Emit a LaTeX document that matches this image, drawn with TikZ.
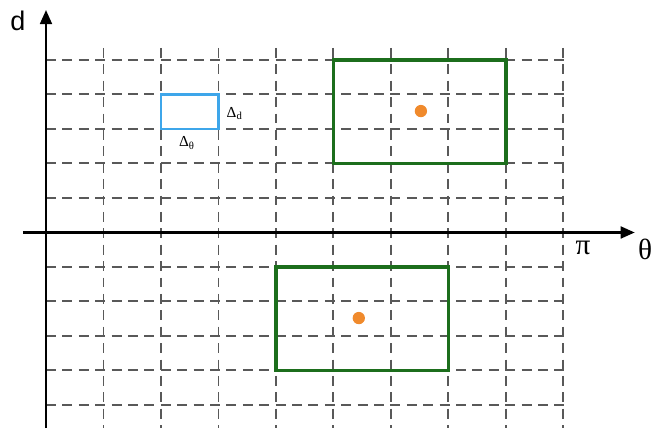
\documentclass[tikz,border=0pt]{standalone}
\usepackage{fontspec}
\setmainfont{Liberation Serif}
\newfontfamily\axisfont{Liberation Sans}
\usetikzlibrary{arrows.meta}
\definecolor{regiongreen}{HTML}{1C6E1C}
\definecolor{cellblue}{HTML}{3EA6EA}
\definecolor{dotorange}{HTML}{F08A2C}

\begin{document}
\begin{tikzpicture}[
    x=1.725cm, y=1.035cm,
    gridline/.style={black!65, line width=1.7pt, dash pattern=on 8.5pt off 5.5pt},
    axis/.style={-{Triangle[length=12pt, width=10pt]}, line width=2.2pt},
    cell/.style={draw=cellblue, line width=2pt},
    region/.style={draw=regiongreen, line width=3.2pt},
    centre/.style={circle, fill=dotorange, inner sep=0pt, minimum size=10.5pt},
    axlabel/.style={font=\fontsize{25}{29}\selectfont},
    dlabel/.style={font=\fontsize{13}{15}\selectfont, inner sep=1pt},
]
\useasboundingbox (-0.8,-5.725) rectangle (10.835,6.739);

% dashed grid
\foreach \i in {1,...,9}
    \draw[gridline] (\i,5.35) -- (\i,-5.67);
\foreach \j in {1,...,5} {
    \draw[gridline] (0,\j) -- (9.11,\j);
    \draw[gridline] (0,-\j) -- (9.11,-\j);
}

% axes
\coordinate (xstart) at (-0.4,0);
\coordinate (xend) at (10.24,0);
\coordinate (ystart) at (0,-5.67);
\coordinate (yend) at (0,6.45);
\draw[axis] (xstart) -- (xend);
\draw[axis] (ystart) -- (yend);

\node[font=\axisfont\fontsize{23}{27}\selectfont] (dlab) at (-0.49,6.12) {d};
\node[axlabel] (thetalab) at (10.42,-0.5) {θ};
\node[axlabel] (pilab) at (9.34,-0.45) {π};

% unit cell
\draw[cell] (2,3) rectangle (3,4);
\node[dlabel] (deltad) at (3.28,3.45) {Δ\textsubscript{d}};
\node[dlabel] (deltatheta) at (2.45,2.6) {Δ\textsubscript{θ}};

% regions
\draw[region] (5,2) rectangle (8,5);
\node[centre] (c1) at (6.52,3.52) {};
\draw[region] (4,-1) rectangle (7,-4);
\node[centre] (c2) at (5.44,-2.48) {};

\end{tikzpicture}
\end{document}
